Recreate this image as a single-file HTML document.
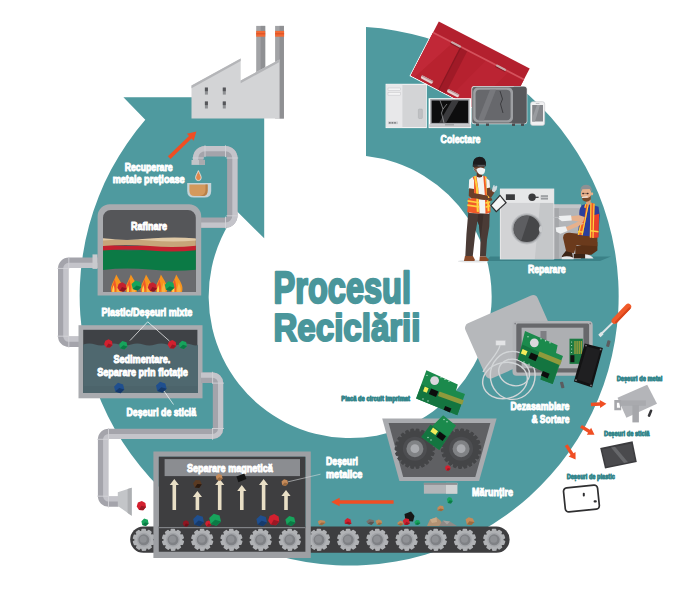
<!DOCTYPE html>
<html><head><meta charset="utf-8">
<style>
html,body{margin:0;padding:0;background:#fff;}
svg{display:block;}
text{font-family:"Liberation Sans",sans-serif;font-weight:bold;}
</style></head>
<body>
<svg width="700" height="603" viewBox="0 0 700 603">
<rect width="700" height="603" fill="#fff"/>
<path fill="#4f9a9f" d="M366,27.1 A269.5,269.5 0 1 1 145.3,119.8 L123.4,97.2 L264.2,97.2 L264.2,238.3 L237.2,211.4 A141.5,141.5 0 1 0 366,156 Z"/>
<text x="273.60" y="303.20" font-size="43.65" textLength="137.40" lengthAdjust="spacingAndGlyphs" fill="#4a969b" stroke="#4a969b" stroke-width="2.40" stroke-linejoin="round" text-anchor="start" >Procesul</text>
<text x="273.50" y="341.10" font-size="38.93" textLength="147.00" lengthAdjust="spacingAndGlyphs" fill="#4a969b" stroke="#4a969b" stroke-width="2.20" stroke-linejoin="round" text-anchor="start" >Reciclării</text>
<g id="factory">
<rect x="256.2" y="25.9" width="9" height="50" fill="#a2a3a6"/><rect x="260.7" y="25.9" width="4.5" height="50" fill="#8f9093"/>
<rect x="275.1" y="25.9" width="8.8" height="92.6" fill="#a2a3a6"/><rect x="279.5" y="25.9" width="4.4" height="92.6" fill="#8f9093"/>
<rect x="256.2" y="30.9" width="9" height="5.8" fill="#f26a35"/><rect x="256.2" y="33.4" width="9" height="0.9" fill="#d94a1e"/>
<rect x="275.1" y="30.9" width="9" height="5.8" fill="#f26a35"/><rect x="275.1" y="33.4" width="9" height="0.9" fill="#d94a1e"/>
<polygon points="191.5,118.5 191.5,85.6 240.7,58.4 240.7,80.6 279.5,59.4 279.5,118.5" fill="#d3d4d6"/>
<polygon points="191.5,85.6 240.7,58.4 240.7,61 191.5,88.2" fill="#b4b5b8"/>
<polygon points="240.7,80.6 279.5,59.4 279.5,62 240.7,83.2" fill="#b4b5b8"/>
<rect x="204.9" y="87.6" width="3" height="7" fill="#8e9093"/><rect x="204.9" y="87.6" width="3" height="3.6" fill="#55565a"/>
<rect x="204.9" y="101.5" width="3" height="7" fill="#8e9093"/><rect x="204.9" y="101.5" width="3" height="3.6" fill="#55565a"/>
<rect x="222.8" y="87.6" width="3" height="7" fill="#8e9093"/><rect x="222.8" y="87.6" width="3" height="3.6" fill="#55565a"/>
<rect x="222.8" y="101.5" width="3" height="7" fill="#8e9093"/><rect x="222.8" y="101.5" width="3" height="3.6" fill="#55565a"/>
</g>
<g id="toppipe">
<path d="M198.20,161.00 L198.20,158.00 A6.80,6.80 0 0 1 205.00,151.20 L225.50,151.20 A6.80,6.80 0 0 1 232.30,158.00 L232.30,215.80 A6.80,6.80 0 0 1 225.50,222.60 L196.00,222.60" fill="none" stroke="#a4a4ab" stroke-width="10.4"/>
<path d="M195.60,161.00 L195.60,158.00 A9.40,9.40 0 0 1 205.00,148.60 L225.50,148.60 A9.40,9.40 0 0 1 234.90,158.00 L234.90,215.80 A9.40,9.40 0 0 1 225.50,225.20 L196.00,225.20" fill="none" stroke="#c4c4ca" stroke-width="5.2"/>
<path d="M204.10,158.00 L192.30,158.00" stroke="#d2d2d7" stroke-width="0.9"/>
<path d="M205.00,157.10 L205.00,145.30" stroke="#d2d2d7" stroke-width="0.9"/>
<path d="M225.50,157.10 L225.50,145.30" stroke="#d2d2d7" stroke-width="0.9"/>
<path d="M226.40,158.00 L238.20,158.00" stroke="#d2d2d7" stroke-width="0.9"/>
<path d="M226.40,215.80 L238.20,215.80" stroke="#d2d2d7" stroke-width="0.9"/>
<path d="M225.50,216.70 L225.50,228.50" stroke="#d2d2d7" stroke-width="0.9"/>
<rect x="191.5" y="159.9" width="13.4" height="5" fill="#c3c4c8"/><rect x="199" y="159.9" width="5.9" height="5" fill="#a9aaae"/>
<path d="M198.4,170.6 C199.6,173.5 201.2,175.6 201.2,177.8 A2.8,2.8 0 0 1 195.6,177.8 C195.6,175.6 197.2,173.5 198.4,170.6Z" fill="#e0894e" stroke="#e8eef0" stroke-width="0.8"/>
<path d="M187.2,183 H211.2 V191 Q211.2,197.6 204.5,197.6 H194 Q187.2,197.6 187.2,191Z" fill="#c4d3d8" />
<path d="M189.4,184.4 H207.6 V190.5 Q207.6,196 202.5,196 H194.5 Q189.4,196 189.4,190.5Z" fill="#d4995c"/>
<path d="M207.6,184.4 V190.5 Q207.6,196 202.5,196 H200 Q205.5,195 205.5,190 V184.4Z" fill="#b77f47"/>
</g>
<polygon points="170.5,158.9 191.6,138.6 193.6,140.8 196.4,131.4 186.9,133.8 189.0,136.0 167.9,156.3" fill="#f04e23"/>
<text x="124.70" y="171.30" font-size="11.20" textLength="48.00" lengthAdjust="spacingAndGlyphs" fill="#fff" stroke="#fff" stroke-width="1.00" stroke-linejoin="round" text-anchor="start" >Recuperare</text>
<text x="112.70" y="183.20" font-size="11.20" textLength="72.00" lengthAdjust="spacingAndGlyphs" fill="#fff" stroke="#fff" stroke-width="1.00" stroke-linejoin="round" text-anchor="start" >metale prețioase</text>
<g id="leftpipe">
<path d="M98.00,262.80 L68.80,262.80 A5.60,5.60 0 0 0 63.20,268.40 L63.20,336.20 A5.60,5.60 0 0 0 68.80,341.80 L80.00,341.80" fill="none" stroke="#a4a4ab" stroke-width="10.4"/>
<path d="M98.00,265.40 L68.80,265.40 A3.00,3.00 0 0 0 65.80,268.40 L65.80,336.20 A3.00,3.00 0 0 0 68.80,339.20 L80.00,339.20" fill="none" stroke="#c4c4ca" stroke-width="5.2"/>
<path d="M68.80,256.90 L68.80,268.70" stroke="#d2d2d7" stroke-width="0.9"/>
<path d="M57.30,268.40 L69.10,268.40" stroke="#d2d2d7" stroke-width="0.9"/>
<path d="M57.30,336.20 L69.10,336.20" stroke="#d2d2d7" stroke-width="0.9"/>
<path d="M68.80,347.70 L68.80,335.90" stroke="#d2d2d7" stroke-width="0.9"/>
<rect x="92.5" y="254.4" width="5" height="14.5" fill="#c9cace"/>
</g>
<g id="furnace">
<path d="M97.6,295.6 V216.5 A12.2,12.2 0 0 1 109.8,204.3 H189 A12.2,12.2 0 0 1 201.2,216.5 V295.6Z" fill="#a9abaf"/>
<path d="M103,292 V217.8 A7.8,7.8 0 0 1 110.8,210 H188 A7.8,7.8 0 0 1 195.8,217.8 V292Z" fill="#555659"/>
<clipPath id="fc"><path d="M103,292 V217.8 A7.8,7.8 0 0 1 110.8,210 H188 A7.8,7.8 0 0 1 195.8,217.8 V292Z"/></clipPath>
<g clip-path="url(#fc)">
<rect x="102" y="268" width="96" height="25" fill="#6a6b6e"/>
<path d="M102,249 Q125,251.5 150,249.5 T198,249.5 V269.6 Q175,272 150,269.6 T102,270Z" fill="#0b7a45"/>
<path d="M102,244.5 Q125,247 150,245 T198,245 V250 Q175,252.5 150,250.5 T102,250.5Z" fill="#c4202f"/>
<path d="M102,238.6 Q125,241 150,239 T198,239 V245.5 Q175,248 150,246 T102,246Z" fill="#c7a57a"/>
<path d="M102,238.2 Q125,240.6 150,238.6 T198,238.6 V240.4 Q175,242.6 150,240.6 T102,240.6Z" fill="#e0c9a6"/>
<path d="M111.2,292 C109.6,286 114.2,281 116.2,274.4 C119.6,281 124.0,285 122.0,292Z" fill="#f7941d"/>
<path d="M111.6,292 C111.0,287 113.6,284 114.6,279 C116.0,284 117.0,287 115.6,292Z" fill="#f15a29"/>
<path d="M117.2,292 C116.6,288 118.2,286 118.8,282.5 C120.0,286 121.2,288 120.6,292Z" fill="#fbb040"/>
<path d="M112.2,292 C111.8,289.5 113.0,287.5 113.4,285 C114.4,287.5 114.8,289.5 114.4,292Z" fill="#ffd24a"/>
<path d="M125.8,292 C124.2,286 128.8,281 130.8,274.4 C134.2,281 138.6,285 136.6,292Z" fill="#f7941d"/>
<path d="M126.2,292 C125.6,287 128.2,284 129.2,279 C130.6,284 131.6,287 130.2,292Z" fill="#f15a29"/>
<path d="M131.8,292 C131.2,288 132.8,286 133.4,282.5 C134.6,286 135.8,288 135.2,292Z" fill="#fbb040"/>
<path d="M126.8,292 C126.4,289.5 127.6,287.5 128.0,285 C129.0,287.5 129.4,289.5 129.0,292Z" fill="#ffd24a"/>
<path d="M141.0,292 C139.4,286 144.0,281 146.0,274.4 C149.4,281 153.8,285 151.8,292Z" fill="#f7941d"/>
<path d="M141.4,292 C140.8,287 143.4,284 144.4,279 C145.8,284 146.8,287 145.4,292Z" fill="#f15a29"/>
<path d="M147.0,292 C146.4,288 148.0,286 148.6,282.5 C149.8,286 151.0,288 150.4,292Z" fill="#fbb040"/>
<path d="M142.0,292 C141.6,289.5 142.8,287.5 143.2,285 C144.2,287.5 144.6,289.5 144.2,292Z" fill="#ffd24a"/>
<path d="M155.9,292 C154.3,286 158.9,281 160.9,274.4 C164.3,281 168.7,285 166.7,292Z" fill="#f7941d"/>
<path d="M156.3,292 C155.7,287 158.3,284 159.3,279 C160.7,284 161.7,287 160.3,292Z" fill="#f15a29"/>
<path d="M161.9,292 C161.3,288 162.9,286 163.5,282.5 C164.7,286 165.9,288 165.3,292Z" fill="#fbb040"/>
<path d="M156.9,292 C156.5,289.5 157.7,287.5 158.1,285 C159.1,287.5 159.5,289.5 159.1,292Z" fill="#ffd24a"/>
<path d="M171.2,292 C169.6,286 174.2,281 176.2,274.4 C179.6,281 184.0,285 182.0,292Z" fill="#f7941d"/>
<path d="M171.6,292 C171.0,287 173.6,284 174.6,279 C176.0,284 177.0,287 175.6,292Z" fill="#f15a29"/>
<path d="M177.2,292 C176.6,288 178.2,286 178.8,282.5 C180.0,286 181.2,288 180.6,292Z" fill="#fbb040"/>
<path d="M172.2,292 C171.8,289.5 173.0,287.5 173.4,285 C174.4,287.5 174.8,289.5 174.4,292Z" fill="#ffd24a"/>
<polygon points="126.5,288.4 123.7,291.4 119.6,291.1 117.4,287.7 118.6,283.8 122.4,282.3 125.9,284.4" fill="#c4202f"/>
<polygon points="122.0,287.0 126.5,288.4 123.7,291.4 119.6,291.1" fill="#8f1622"/>
<polygon points="141.4,287.1 137.6,290.6 132.8,289.1 131.6,284.1 135.4,280.6 140.2,282.1" fill="#17a45c"/>
<polygon points="136.5,285.6 141.4,287.1 137.6,290.6 132.8,289.1" fill="#0b7a45"/>
<polygon points="156.9,288.4 154.1,291.4 150.0,291.1 147.8,287.7 149.0,283.8 152.8,282.3 156.3,284.4" fill="#c4202f"/>
<polygon points="152.4,287.0 156.9,288.4 154.1,291.4 150.0,291.1" fill="#8f1622"/>
<polygon points="174.4,287.7 170.7,291.1 165.9,289.6 164.8,284.7 168.5,281.3 173.3,282.8" fill="#17a45c"/>
<polygon points="169.6,286.2 174.4,287.7 170.7,291.1 165.9,289.6" fill="#0b7a45"/>
</g>
<text x="130.90" y="230.10" font-size="11.20" textLength="36.00" lengthAdjust="spacingAndGlyphs" fill="#fff" stroke="#fff" stroke-width="1.00" stroke-linejoin="round" text-anchor="start" >Rafinare</text>
</g>
<text x="101.50" y="316.10" font-size="11.20" textLength="90.80" lengthAdjust="spacingAndGlyphs" fill="#fff" stroke="#fff" stroke-width="1.00" stroke-linejoin="round" text-anchor="start" >Plastic/Deșeuri mixte</text>
<g id="tank">
<rect x="78.5" y="325.2" width="124" height="73.1" fill="#a9abaf"/>
<rect x="83.2" y="329.8" width="114.2" height="63.2" fill="#3f4246"/>
<path d="M83.2,344.5 q6,-2.2 12,0 t12,0 t12,0 t12,0 t12,0 t12,0 t12,0 t12,0 t12,0 t6.8,0 V393 H83.2Z" fill="#4f686f"/>
<path d="M83.2,386 H197.4 V393 H83.2Z" fill="#4c646b"/>
<polygon points="112.5,344.9 110.0,347.6 106.2,347.3 104.1,344.2 105.3,340.7 108.7,339.3 112.0,341.2" fill="#d3202f"/>
<polygon points="108.4,343.6 112.5,344.9 110.0,347.6 106.2,347.3" fill="#9b1824"/>
<polygon points="127.5,346.5 124.3,349.5 120.1,348.2 119.1,343.9 122.3,340.9 126.5,342.2" fill="#17a45c"/>
<polygon points="123.3,345.2 127.5,346.5 124.3,349.5 120.1,348.2" fill="#0b7a45"/>
<polygon points="176.3,345.7 173.7,348.5 169.9,348.2 167.7,345.1 168.9,341.4 172.4,340.0 175.7,341.9" fill="#d3202f"/>
<polygon points="172.1,344.4 176.3,345.7 173.7,348.5 169.9,348.2" fill="#9b1824"/>
<polygon points="187.0,346.0 183.9,348.9 179.9,347.7 179.0,343.6 182.1,340.7 186.1,341.9" fill="#17a45c"/>
<polygon points="183.0,344.8 187.0,346.0 183.9,348.9 179.9,347.7" fill="#0b7a45"/>
<polygon points="124.3,389.6 120.4,393.2 115.3,391.6 114.1,386.4 118.0,382.8 123.1,384.4" fill="#1f4f8f"/>
<polygon points="119.2,388.0 124.3,389.6 120.4,393.2 115.3,391.6" fill="#163a6b"/>
<polygon points="166.6,388.8 162.5,392.6 157.3,390.9 156.0,385.6 160.1,381.8 165.3,383.5" fill="#1f4f8f"/>
<polygon points="161.3,387.2 166.6,388.8 162.5,392.6 157.3,390.9" fill="#163a6b"/>
<path d="M147.7,321.8 L130,340.5 M147.7,321.8 L169.4,341" stroke="#fff" stroke-width="0.7" fill="none"/>
<path d="M164,391 L173.5,404.5" stroke="#fff" stroke-width="0.7" fill="none"/>
<text x="113.50" y="363.30" font-size="11.20" textLength="56.80" lengthAdjust="spacingAndGlyphs" fill="#fff" stroke="#fff" stroke-width="1.00" stroke-linejoin="round" text-anchor="start" >Sedimentare.</text>
<text x="97.20" y="375.80" font-size="11.20" textLength="90.70" lengthAdjust="spacingAndGlyphs" fill="#fff" stroke="#fff" stroke-width="1.00" stroke-linejoin="round" text-anchor="start" >Separare prin flotație</text>
</g>
<text x="126.50" y="415.70" font-size="11.20" textLength="69.60" lengthAdjust="spacingAndGlyphs" fill="#fff" stroke="#fff" stroke-width="1.00" stroke-linejoin="round" text-anchor="start" >Deșeuri de sticlă</text>
<g id="rpipe">
<path d="M201.00,377.70 L212.60,377.70 A5.40,5.40 0 0 1 218.00,383.10 L218.00,428.50 A5.40,5.40 0 0 1 212.60,433.90 L108.50,433.90 A5.40,5.40 0 0 0 103.10,439.30 L103.10,496.20 A5.40,5.40 0 0 0 108.50,501.60 L118.50,501.60" fill="none" stroke="#a4a4ab" stroke-width="10.4"/>
<path d="M201.00,375.10 L212.60,375.10 A8.00,8.00 0 0 1 220.60,383.10 L220.60,428.50 A8.00,8.00 0 0 1 212.60,436.50 L108.50,436.50 A2.80,2.80 0 0 0 105.70,439.30 L105.70,496.20 A2.80,2.80 0 0 0 108.50,499.00 L118.50,499.00" fill="none" stroke="#c4c4ca" stroke-width="5.2"/>
<path d="M212.60,383.60 L212.60,371.80" stroke="#d2d2d7" stroke-width="0.9"/>
<path d="M212.10,383.10 L223.90,383.10" stroke="#d2d2d7" stroke-width="0.9"/>
<path d="M212.10,428.50 L223.90,428.50" stroke="#d2d2d7" stroke-width="0.9"/>
<path d="M212.60,428.00 L212.60,439.80" stroke="#d2d2d7" stroke-width="0.9"/>
<path d="M108.50,428.00 L108.50,439.80" stroke="#d2d2d7" stroke-width="0.9"/>
<path d="M97.20,439.30 L109.00,439.30" stroke="#d2d2d7" stroke-width="0.9"/>
<path d="M97.20,496.20 L109.00,496.20" stroke="#d2d2d7" stroke-width="0.9"/>
<path d="M108.50,507.50 L108.50,495.70" stroke="#d2d2d7" stroke-width="0.9"/>
<polygon points="117.8,492.2 131.7,487.7 131.7,515.8 117.8,505.9" fill="#c3c5c8"/>
<polygon points="127.6,489 131.7,487.7 131.7,515.8 127.6,512.9" fill="#adafb2"/>
</g>
<polygon points="146.0,507.1 143.2,510.2 139.0,509.9 136.7,506.4 137.9,502.4 141.8,500.9 145.4,503.0" fill="#d3202f"/>
<polygon points="141.4,505.7 146.0,507.1 143.2,510.2 139.0,509.9" fill="#9b1824"/>
<polygon points="148.6,523.4 145.8,526.0 142.2,524.9 141.4,521.2 144.2,518.6 147.8,519.7" fill="#17a45c"/>
<polygon points="145.0,522.3 148.6,523.4 145.8,526.0 142.2,524.9" fill="#0b7a45"/>
<g id="conveyor">
<rect x="130.2" y="526.4" width="379.4" height="26.4" rx="13.2" fill="#3e3e40"/>
<path d="M152.47,540.55 L154.17,541.42 L153.28,544.32 L151.37,544.08 L150.37,545.50 L151.24,547.21 L148.81,549.03 L147.41,547.71 L145.77,548.27 L145.47,550.17 L142.43,550.21 L142.07,548.33 L140.41,547.81 L139.05,549.17 L136.57,547.42 L137.39,545.68 L136.35,544.29 L134.46,544.59 L133.48,541.71 L135.16,540.79 L135.13,539.05 L133.43,538.18 L134.32,535.28 L136.23,535.52 L137.23,534.10 L136.36,532.39 L138.79,530.57 L140.19,531.89 L141.83,531.33 L142.13,529.43 L145.17,529.39 L145.53,531.27 L147.19,531.79 L148.55,530.43 L151.03,532.18 L150.21,533.92 L151.25,535.31 L153.14,535.01 L154.12,537.89 L152.44,538.81Z" fill="#b0b2b5" stroke="#b0b2b5" stroke-width="1.4" stroke-linejoin="round"/>
<circle cx="143.8" cy="539.8" r="7" fill="#a3a5a9"/>
<circle cx="143.8" cy="539.8" r="5.5" fill="#7f8185"/>
<circle cx="143.3" cy="539.3" r="3.5" fill="#8f9195"/>
<path d="M181.67,540.55 L183.37,541.42 L182.48,544.32 L180.57,544.08 L179.57,545.50 L180.44,547.21 L178.01,549.03 L176.61,547.71 L174.97,548.27 L174.67,550.17 L171.63,550.21 L171.27,548.33 L169.61,547.81 L168.25,549.17 L165.77,547.42 L166.59,545.68 L165.55,544.29 L163.66,544.59 L162.68,541.71 L164.36,540.79 L164.33,539.05 L162.63,538.18 L163.52,535.28 L165.43,535.52 L166.43,534.10 L165.56,532.39 L167.99,530.57 L169.39,531.89 L171.03,531.33 L171.33,529.43 L174.37,529.39 L174.73,531.27 L176.39,531.79 L177.75,530.43 L180.23,532.18 L179.41,533.92 L180.45,535.31 L182.34,535.01 L183.32,537.89 L181.64,538.81Z" fill="#b0b2b5" stroke="#b0b2b5" stroke-width="1.4" stroke-linejoin="round"/>
<circle cx="173.0" cy="539.8" r="7" fill="#a3a5a9"/>
<circle cx="173.0" cy="539.8" r="5.5" fill="#7f8185"/>
<circle cx="172.5" cy="539.3" r="3.5" fill="#8f9195"/>
<path d="M210.87,540.55 L212.57,541.42 L211.68,544.32 L209.77,544.08 L208.77,545.50 L209.64,547.21 L207.21,549.03 L205.81,547.71 L204.17,548.27 L203.87,550.17 L200.83,550.21 L200.47,548.33 L198.81,547.81 L197.45,549.17 L194.97,547.42 L195.79,545.68 L194.75,544.29 L192.86,544.59 L191.88,541.71 L193.56,540.79 L193.53,539.05 L191.83,538.18 L192.72,535.28 L194.63,535.52 L195.63,534.10 L194.76,532.39 L197.19,530.57 L198.59,531.89 L200.23,531.33 L200.53,529.43 L203.57,529.39 L203.93,531.27 L205.59,531.79 L206.95,530.43 L209.43,532.18 L208.61,533.92 L209.65,535.31 L211.54,535.01 L212.52,537.89 L210.84,538.81Z" fill="#b0b2b5" stroke="#b0b2b5" stroke-width="1.4" stroke-linejoin="round"/>
<circle cx="202.2" cy="539.8" r="7" fill="#a3a5a9"/>
<circle cx="202.2" cy="539.8" r="5.5" fill="#7f8185"/>
<circle cx="201.7" cy="539.3" r="3.5" fill="#8f9195"/>
<path d="M240.07,540.55 L241.77,541.42 L240.88,544.32 L238.97,544.08 L237.97,545.50 L238.84,547.21 L236.41,549.03 L235.01,547.71 L233.37,548.27 L233.07,550.17 L230.03,550.21 L229.67,548.33 L228.01,547.81 L226.65,549.17 L224.17,547.42 L224.99,545.68 L223.95,544.29 L222.06,544.59 L221.08,541.71 L222.76,540.79 L222.73,539.05 L221.03,538.18 L221.92,535.28 L223.83,535.52 L224.83,534.10 L223.96,532.39 L226.39,530.57 L227.79,531.89 L229.43,531.33 L229.73,529.43 L232.77,529.39 L233.13,531.27 L234.79,531.79 L236.15,530.43 L238.63,532.18 L237.81,533.92 L238.85,535.31 L240.74,535.01 L241.72,537.89 L240.04,538.81Z" fill="#b0b2b5" stroke="#b0b2b5" stroke-width="1.4" stroke-linejoin="round"/>
<circle cx="231.4" cy="539.8" r="7" fill="#a3a5a9"/>
<circle cx="231.4" cy="539.8" r="5.5" fill="#7f8185"/>
<circle cx="230.9" cy="539.3" r="3.5" fill="#8f9195"/>
<path d="M269.27,540.55 L270.97,541.42 L270.08,544.32 L268.17,544.08 L267.17,545.50 L268.04,547.21 L265.61,549.03 L264.21,547.71 L262.57,548.27 L262.27,550.17 L259.23,550.21 L258.87,548.33 L257.21,547.81 L255.85,549.17 L253.37,547.42 L254.19,545.68 L253.15,544.29 L251.26,544.59 L250.28,541.71 L251.96,540.79 L251.93,539.05 L250.23,538.18 L251.12,535.28 L253.03,535.52 L254.03,534.10 L253.16,532.39 L255.59,530.57 L256.99,531.89 L258.63,531.33 L258.93,529.43 L261.97,529.39 L262.33,531.27 L263.99,531.79 L265.35,530.43 L267.83,532.18 L267.01,533.92 L268.05,535.31 L269.94,535.01 L270.92,537.89 L269.24,538.81Z" fill="#b0b2b5" stroke="#b0b2b5" stroke-width="1.4" stroke-linejoin="round"/>
<circle cx="260.6" cy="539.8" r="7" fill="#a3a5a9"/>
<circle cx="260.6" cy="539.8" r="5.5" fill="#7f8185"/>
<circle cx="260.1" cy="539.3" r="3.5" fill="#8f9195"/>
<path d="M298.47,540.55 L300.17,541.42 L299.28,544.32 L297.37,544.08 L296.37,545.50 L297.24,547.21 L294.81,549.03 L293.41,547.71 L291.77,548.27 L291.47,550.17 L288.43,550.21 L288.07,548.33 L286.41,547.81 L285.05,549.17 L282.57,547.42 L283.39,545.68 L282.35,544.29 L280.46,544.59 L279.48,541.71 L281.16,540.79 L281.13,539.05 L279.43,538.18 L280.32,535.28 L282.23,535.52 L283.23,534.10 L282.36,532.39 L284.79,530.57 L286.19,531.89 L287.83,531.33 L288.13,529.43 L291.17,529.39 L291.53,531.27 L293.19,531.79 L294.55,530.43 L297.03,532.18 L296.21,533.92 L297.25,535.31 L299.14,535.01 L300.12,537.89 L298.44,538.81Z" fill="#b0b2b5" stroke="#b0b2b5" stroke-width="1.4" stroke-linejoin="round"/>
<circle cx="289.8" cy="539.8" r="7" fill="#a3a5a9"/>
<circle cx="289.8" cy="539.8" r="5.5" fill="#7f8185"/>
<circle cx="289.3" cy="539.3" r="3.5" fill="#8f9195"/>
<path d="M327.67,540.55 L329.37,541.42 L328.48,544.32 L326.57,544.08 L325.57,545.50 L326.44,547.21 L324.01,549.03 L322.61,547.71 L320.97,548.27 L320.67,550.17 L317.63,550.21 L317.27,548.33 L315.61,547.81 L314.25,549.17 L311.77,547.42 L312.59,545.68 L311.55,544.29 L309.66,544.59 L308.68,541.71 L310.36,540.79 L310.33,539.05 L308.63,538.18 L309.52,535.28 L311.43,535.52 L312.43,534.10 L311.56,532.39 L313.99,530.57 L315.39,531.89 L317.03,531.33 L317.33,529.43 L320.37,529.39 L320.73,531.27 L322.39,531.79 L323.75,530.43 L326.23,532.18 L325.41,533.92 L326.45,535.31 L328.34,535.01 L329.32,537.89 L327.64,538.81Z" fill="#b0b2b5" stroke="#b0b2b5" stroke-width="1.4" stroke-linejoin="round"/>
<circle cx="319.0" cy="539.8" r="7" fill="#a3a5a9"/>
<circle cx="319.0" cy="539.8" r="5.5" fill="#7f8185"/>
<circle cx="318.5" cy="539.3" r="3.5" fill="#8f9195"/>
<path d="M356.87,540.55 L358.57,541.42 L357.68,544.32 L355.77,544.08 L354.77,545.50 L355.64,547.21 L353.21,549.03 L351.81,547.71 L350.17,548.27 L349.87,550.17 L346.83,550.21 L346.47,548.33 L344.81,547.81 L343.45,549.17 L340.97,547.42 L341.79,545.68 L340.75,544.29 L338.86,544.59 L337.88,541.71 L339.56,540.79 L339.53,539.05 L337.83,538.18 L338.72,535.28 L340.63,535.52 L341.63,534.10 L340.76,532.39 L343.19,530.57 L344.59,531.89 L346.23,531.33 L346.53,529.43 L349.57,529.39 L349.93,531.27 L351.59,531.79 L352.95,530.43 L355.43,532.18 L354.61,533.92 L355.65,535.31 L357.54,535.01 L358.52,537.89 L356.84,538.81Z" fill="#b0b2b5" stroke="#b0b2b5" stroke-width="1.4" stroke-linejoin="round"/>
<circle cx="348.2" cy="539.8" r="7" fill="#a3a5a9"/>
<circle cx="348.2" cy="539.8" r="5.5" fill="#7f8185"/>
<circle cx="347.7" cy="539.3" r="3.5" fill="#8f9195"/>
<path d="M386.07,540.55 L387.77,541.42 L386.88,544.32 L384.97,544.08 L383.97,545.50 L384.84,547.21 L382.41,549.03 L381.01,547.71 L379.37,548.27 L379.07,550.17 L376.03,550.21 L375.67,548.33 L374.01,547.81 L372.65,549.17 L370.17,547.42 L370.99,545.68 L369.95,544.29 L368.06,544.59 L367.08,541.71 L368.76,540.79 L368.73,539.05 L367.03,538.18 L367.92,535.28 L369.83,535.52 L370.83,534.10 L369.96,532.39 L372.39,530.57 L373.79,531.89 L375.43,531.33 L375.73,529.43 L378.77,529.39 L379.13,531.27 L380.79,531.79 L382.15,530.43 L384.63,532.18 L383.81,533.92 L384.85,535.31 L386.74,535.01 L387.72,537.89 L386.04,538.81Z" fill="#b0b2b5" stroke="#b0b2b5" stroke-width="1.4" stroke-linejoin="round"/>
<circle cx="377.4" cy="539.8" r="7" fill="#a3a5a9"/>
<circle cx="377.4" cy="539.8" r="5.5" fill="#7f8185"/>
<circle cx="376.9" cy="539.3" r="3.5" fill="#8f9195"/>
<path d="M415.27,540.55 L416.97,541.42 L416.08,544.32 L414.17,544.08 L413.17,545.50 L414.04,547.21 L411.61,549.03 L410.21,547.71 L408.57,548.27 L408.27,550.17 L405.23,550.21 L404.87,548.33 L403.21,547.81 L401.85,549.17 L399.37,547.42 L400.19,545.68 L399.15,544.29 L397.26,544.59 L396.28,541.71 L397.96,540.79 L397.93,539.05 L396.23,538.18 L397.12,535.28 L399.03,535.52 L400.03,534.10 L399.16,532.39 L401.59,530.57 L402.99,531.89 L404.63,531.33 L404.93,529.43 L407.97,529.39 L408.33,531.27 L409.99,531.79 L411.35,530.43 L413.83,532.18 L413.01,533.92 L414.05,535.31 L415.94,535.01 L416.92,537.89 L415.24,538.81Z" fill="#b0b2b5" stroke="#b0b2b5" stroke-width="1.4" stroke-linejoin="round"/>
<circle cx="406.6" cy="539.8" r="7" fill="#a3a5a9"/>
<circle cx="406.6" cy="539.8" r="5.5" fill="#7f8185"/>
<circle cx="406.1" cy="539.3" r="3.5" fill="#8f9195"/>
<path d="M444.47,540.55 L446.17,541.42 L445.28,544.32 L443.37,544.08 L442.37,545.50 L443.24,547.21 L440.81,549.03 L439.41,547.71 L437.77,548.27 L437.47,550.17 L434.43,550.21 L434.07,548.33 L432.41,547.81 L431.05,549.17 L428.57,547.42 L429.39,545.68 L428.35,544.29 L426.46,544.59 L425.48,541.71 L427.16,540.79 L427.13,539.05 L425.43,538.18 L426.32,535.28 L428.23,535.52 L429.23,534.10 L428.36,532.39 L430.79,530.57 L432.19,531.89 L433.83,531.33 L434.13,529.43 L437.17,529.39 L437.53,531.27 L439.19,531.79 L440.55,530.43 L443.03,532.18 L442.21,533.92 L443.25,535.31 L445.14,535.01 L446.12,537.89 L444.44,538.81Z" fill="#b0b2b5" stroke="#b0b2b5" stroke-width="1.4" stroke-linejoin="round"/>
<circle cx="435.8" cy="539.8" r="7" fill="#a3a5a9"/>
<circle cx="435.8" cy="539.8" r="5.5" fill="#7f8185"/>
<circle cx="435.3" cy="539.3" r="3.5" fill="#8f9195"/>
<path d="M473.67,540.55 L475.37,541.42 L474.48,544.32 L472.57,544.08 L471.57,545.50 L472.44,547.21 L470.01,549.03 L468.61,547.71 L466.97,548.27 L466.67,550.17 L463.63,550.21 L463.27,548.33 L461.61,547.81 L460.25,549.17 L457.77,547.42 L458.59,545.68 L457.55,544.29 L455.66,544.59 L454.68,541.71 L456.36,540.79 L456.33,539.05 L454.63,538.18 L455.52,535.28 L457.43,535.52 L458.43,534.10 L457.56,532.39 L459.99,530.57 L461.39,531.89 L463.03,531.33 L463.33,529.43 L466.37,529.39 L466.73,531.27 L468.39,531.79 L469.75,530.43 L472.23,532.18 L471.41,533.92 L472.45,535.31 L474.34,535.01 L475.32,537.89 L473.64,538.81Z" fill="#b0b2b5" stroke="#b0b2b5" stroke-width="1.4" stroke-linejoin="round"/>
<circle cx="465.0" cy="539.8" r="7" fill="#a3a5a9"/>
<circle cx="465.0" cy="539.8" r="5.5" fill="#7f8185"/>
<circle cx="464.5" cy="539.3" r="3.5" fill="#8f9195"/>
<path d="M502.87,540.55 L504.57,541.42 L503.68,544.32 L501.77,544.08 L500.77,545.50 L501.64,547.21 L499.21,549.03 L497.81,547.71 L496.17,548.27 L495.87,550.17 L492.83,550.21 L492.47,548.33 L490.81,547.81 L489.45,549.17 L486.97,547.42 L487.79,545.68 L486.75,544.29 L484.86,544.59 L483.88,541.71 L485.56,540.79 L485.53,539.05 L483.83,538.18 L484.72,535.28 L486.63,535.52 L487.63,534.10 L486.76,532.39 L489.19,530.57 L490.59,531.89 L492.23,531.33 L492.53,529.43 L495.57,529.39 L495.93,531.27 L497.59,531.79 L498.95,530.43 L501.43,532.18 L500.61,533.92 L501.65,535.31 L503.54,535.01 L504.52,537.89 L502.84,538.81Z" fill="#b0b2b5" stroke="#b0b2b5" stroke-width="1.4" stroke-linejoin="round"/>
<circle cx="494.2" cy="539.8" r="7" fill="#a3a5a9"/>
<circle cx="494.2" cy="539.8" r="5.5" fill="#7f8185"/>
<circle cx="493.7" cy="539.3" r="3.5" fill="#8f9195"/>
</g>
<g id="magsep">
<path fill-rule="evenodd" fill="#9d9fa3" d="M153.4,451.6 H310.8 V558 H153.4Z M158.8,456.7 V551.8 H305.4 V456.7Z"/>
<rect x="158.8" y="456.7" width="146.6" height="70.6" fill="#3e3e40"/>
<rect x="158.8" y="527" width="146.6" height="1.2" fill="#808286"/>
<rect x="164.6" y="459.1" width="135.4" height="17" fill="#8b8d91"/>
<text x="186.90" y="471.50" font-size="11.20" textLength="86.00" lengthAdjust="spacingAndGlyphs" fill="#fff" stroke="#fff" stroke-width="1.00" stroke-linejoin="round" text-anchor="start" >Separare magnetică</text>
<polygon points="172.5,510 172.5,485.0 169.7,485.0 174.3,479.0 178.9,485.0 176.1,485.0 176.1,510" fill="#e9dfc6"/>
<polygon points="195.6,510 195.6,497.1 192.8,497.1 197.4,491.1 202.0,497.1 199.2,497.1 199.2,510" fill="#e9dfc6"/>
<polygon points="217.9,510 217.9,485.0 215.1,485.0 219.7,479.0 224.3,485.0 221.5,485.0 221.5,510" fill="#e9dfc6"/>
<polygon points="240.0,510 240.0,491.0 237.2,491.0 241.8,485.0 246.4,491.0 243.6,491.0 243.6,510" fill="#e9dfc6"/>
<polygon points="261.8,510 261.8,485.0 259.0,485.0 263.6,479.0 268.2,485.0 265.4,485.0 265.4,510" fill="#e9dfc6"/>
<polygon points="284.2,510 284.2,496.0 281.4,496.0 286.0,490.0 290.6,496.0 287.8,496.0 287.8,510" fill="#e9dfc6"/>
<polygon points="201.8,484.3 199.2,487.9 194.8,487.5 193.0,483.5 195.6,479.9 200.0,480.3" fill="#5a3a22"/>
<polygon points="197.4,483.9 201.8,484.3 199.2,487.9 194.8,487.5" fill="#2a1a10"/>
<polygon points="222.6,478.4 220.0,480.8 216.6,479.7 215.8,476.2 218.4,473.8 221.8,474.9" fill="#c58b5a"/>
<polygon points="219.2,477.3 222.6,478.4 220.0,480.8 216.6,479.7" fill="#9a6a40"/>
<polygon points="236.4,476.6 244.4,473.4 246.4,479 238.4,482.2" fill="#151515"/>
<polygon points="288.1,483.6 285.6,486.0 282.2,485.0 281.5,481.6 284.0,479.2 287.4,480.2" fill="#c58b5a"/>
<polygon points="284.8,482.6 288.1,483.6 285.6,486.0 282.2,485.0" fill="#9a6a40"/>
<path d="M288,481.8 L320.5,474.2" stroke="#d7dadc" stroke-width="0.6"/>
<polygon points="189.0,524.3 187.1,526.4 184.3,526.2 182.7,523.9 183.6,521.2 186.1,520.2 188.5,521.6" fill="#8f1622"/>
<polygon points="185.9,523.4 189.0,524.3 187.1,526.4 184.3,526.2" fill="#6d1018"/>
<polygon points="204.0,522.3 199.9,526.2 194.4,524.5 193.2,518.9 197.3,515.0 202.8,516.7" fill="#1f4f8f"/>
<polygon points="198.6,520.6 204.0,522.3 199.9,526.2 194.4,524.5" fill="#163a6b"/>
<polygon points="211.4,524.5 209.5,526.6 206.7,526.4 205.1,524.1 206.0,521.4 208.5,520.4 210.9,521.8" fill="#d3202f"/>
<polygon points="208.3,523.6 211.4,524.5 209.5,526.6 206.7,526.4" fill="#9b1824"/>
<polygon points="221.0,521.6 216.5,525.8 210.6,524.0 209.2,518.0 213.7,513.8 219.6,515.6" fill="#17a45c"/>
<polygon points="215.1,519.8 221.0,521.6 216.5,525.8 210.6,524.0" fill="#0b7a45"/>
<polygon points="267.0,522.5 262.9,526.3 257.6,524.6 256.4,519.1 260.5,515.3 265.8,517.0" fill="#1f4f8f"/>
<polygon points="261.7,520.8 267.0,522.5 262.9,526.3 257.6,524.6" fill="#163a6b"/>
<polygon points="279.3,521.5 275.9,525.2 270.9,524.8 268.1,520.7 269.6,515.9 274.2,514.0 278.6,516.5" fill="#d3202f"/>
<polygon points="273.8,519.8 279.3,521.5 275.9,525.2 270.9,524.8" fill="#9b1824"/>
<polygon points="295.4,522.5 291.6,526.1 286.6,524.5 285.4,519.5 289.2,515.9 294.2,517.5" fill="#17a45c"/>
<polygon points="290.4,521.0 295.4,522.5 291.6,526.1 286.6,524.5" fill="#0b7a45"/>
</g>
<text x="326.00" y="465.10" font-size="11.20" textLength="32.00" lengthAdjust="spacingAndGlyphs" fill="#fff" stroke="#fff" stroke-width="1.00" stroke-linejoin="round" text-anchor="start" >Deșeuri</text>
<text x="326.00" y="477.50" font-size="11.20" textLength="36.40" lengthAdjust="spacingAndGlyphs" fill="#fff" stroke="#fff" stroke-width="1.00" stroke-linejoin="round" text-anchor="start" >metalice</text>
<polygon points="393.6,500.3 339.6,500.3 339.6,497.7 331.1,502.0 339.6,506.3 339.6,503.7 393.6,503.7" fill="#f04e23"/>
<polygon points="325.5,522.8 321.9,525.2 318.9,524.4 317.9,521.3 320.2,520.0 324.7,520.8" fill="#c58b5a"/>
<polygon points="321.6,522.4 325.5,522.8 321.9,525.2 318.9,524.4" fill="#9a6a40"/>
<polygon points="351.5,523.5 349.5,524.5 344.7,523.6 344.7,520.3 347.4,518.1 350.6,519.5" fill="#d3202f"/>
<polygon points="348.0,521.6 351.5,523.5 349.5,524.5 344.7,523.6" fill="#9b1824"/>
<polygon points="374.2,522.3 371.5,524.9 367.7,523.6 366.3,521.6 369.2,519.0 373.7,520.3" fill="#77706c"/>
<polygon points="370.4,521.8 374.2,522.3 371.5,524.9 367.7,523.6" fill="#5a5450"/>
<polygon points="382.2,522.9 379.8,525.1 376.9,524.8 375.5,520.8 378.6,519.5 381.5,520.5" fill="#c58b5a"/>
<polygon points="378.9,522.4 382.2,522.9 379.8,525.1 376.9,524.8" fill="#9a6a40"/>
<polygon points="403.6,524.0 400.8,525.8 397.7,524.6 397.4,522.8 400.5,520.4 403.0,521.8" fill="#c58b5a"/>
<polygon points="400.5,523.0 403.6,524.0 400.8,525.8 397.7,524.6" fill="#9a6a40"/>
<polygon points="404.5,514 411,511.6 414.5,516 413,521.5 405.5,521" fill="#171717"/>
<polygon points="409.9,523.4 407.2,525.0 404.4,524.8 402.7,520.8 405.3,518.3 408.9,519.0" fill="#d3202f"/>
<polygon points="406.4,521.8 409.9,523.4 407.2,525.0 404.4,524.8" fill="#9b1824"/>
<polygon points="420.3,522.9 417.9,524.9 415.2,524.2 414.4,522.2 416.1,520.0 419.1,520.3" fill="#17a45c"/>
<polygon points="417.5,522.4 420.3,522.9 417.9,524.9 415.2,524.2" fill="#0b7a45"/>
<polygon points="427,526 430,519.5 436.5,517.2 441,521 443,526" fill="#b39273"/><polygon points="430,519.5 436.5,517.2 437,522 432,523" fill="#c9a987"/>
<polygon points="439,526 443,520.6 450,521.6 457,526" fill="#8e8a87"/><polygon points="443,520.6 450,521.6 447,524.4" fill="#a8a4a1"/>
<polygon points="474.5,521.9 471.4,525.1 466.8,524.4 465.6,519.2 468.7,517.2 472.8,518.4" fill="#c58b5a"/>
<polygon points="469.4,521.2 474.5,521.9 471.4,525.1 466.8,524.4" fill="#9a6a40"/>
<polygon points="452.7,501.1 451.0,503.4 447.8,502.9 446.9,498.9 448.9,497.1 451.4,497.8" fill="#17a45c"/>
<polygon points="449.6,500.3 452.7,501.1 451.0,503.4 447.8,502.9" fill="#0b7a45"/>
<polygon points="444.0,509.5 441.2,511.3 437.4,510.3 437.5,507.5 439.9,505.6 443.1,506.0" fill="#c58b5a"/>
<polygon points="440.6,508.5 444.0,509.5 441.2,511.3 437.4,510.3" fill="#9a6a40"/>
<g id="shredder">
<polygon points="382.2,418.6 496.6,418.6 479.1,480.9 399.4,480.9" fill="#a9abaf"/>
<polygon points="388.6,423 490.4,423 475.3,476.9 403.2,476.9" fill="#5f6063"/>
<path d="M432.22,447.01 L434.66,447.39 L434.66,450.01 L432.22,450.39 L431.99,451.96 L434.22,453.01 L433.49,455.52 L431.04,455.20 L430.38,456.64 L432.23,458.28 L430.81,460.48 L428.55,459.49 L427.52,460.68 L428.82,462.78 L426.85,464.49 L424.96,462.90 L423.63,463.75 L424.29,466.13 L421.92,467.21 L420.55,465.16 L419.04,465.60 L419.00,468.07 L416.42,468.44 L415.69,466.08 L414.11,466.08 L413.38,468.44 L410.80,468.07 L410.76,465.60 L409.25,465.16 L407.88,467.21 L405.51,466.13 L406.17,463.75 L404.84,462.90 L402.95,464.49 L400.98,462.78 L402.28,460.68 L401.25,459.49 L398.99,460.48 L397.57,458.28 L399.42,456.64 L398.76,455.20 L396.31,455.52 L395.58,453.01 L397.81,451.96 L397.58,450.39 L395.14,450.01 L395.14,447.39 L397.58,447.01 L397.81,445.44 L395.58,444.39 L396.31,441.88 L398.76,442.20 L399.42,440.76 L397.57,439.12 L398.99,436.92 L401.25,437.91 L402.28,436.72 L400.98,434.62 L402.95,432.91 L404.84,434.50 L406.17,433.65 L405.51,431.27 L407.88,430.19 L409.25,432.24 L410.76,431.80 L410.80,429.33 L413.38,428.96 L414.11,431.32 L415.69,431.32 L416.42,428.96 L419.00,429.33 L419.04,431.80 L420.55,432.24 L421.92,430.19 L424.29,431.27 L423.63,433.65 L424.96,434.50 L426.85,432.91 L428.82,434.62 L427.52,436.72 L428.55,437.91 L430.81,436.92 L432.23,439.12 L430.38,440.76 L431.04,442.20 L433.49,441.88 L434.22,444.39 L431.99,445.44Z" fill="#444547" stroke="#444547" stroke-width="1" stroke-linejoin="round"/>
<circle cx="414.9" cy="448.7" r="12" fill="#4d4e51"/>
<circle cx="414.9" cy="448.7" r="8.5" fill="#808285"/>
<circle cx="414.9" cy="448.7" r="4.4" fill="#a9abaf"/>
<path d="M478.41,450.48 L480.72,451.35 L480.20,453.90 L477.74,453.80 L477.21,455.29 L479.18,456.77 L477.96,459.08 L475.63,458.28 L474.70,459.56 L476.18,461.53 L474.36,463.41 L472.34,461.98 L471.09,462.95 L471.95,465.26 L469.68,466.55 L468.14,464.61 L466.67,465.18 L466.84,467.65 L464.30,468.24 L463.37,465.95 L461.80,466.09 L461.27,468.50 L458.67,468.35 L458.42,465.89 L456.87,465.58 L455.69,467.75 L453.23,466.87 L453.69,464.44 L452.29,463.70 L450.54,465.45 L448.43,463.92 L449.55,461.71 L448.42,460.61 L446.25,461.80 L444.66,459.73 L446.35,457.93 L445.58,456.56 L443.16,457.08 L442.22,454.65 L444.35,453.40 L443.99,451.87 L441.53,451.69 L441.30,449.09 L443.70,448.49 L443.79,446.92 L441.48,446.05 L442.00,443.50 L444.46,443.60 L444.99,442.11 L443.02,440.63 L444.24,438.32 L446.57,439.12 L447.50,437.84 L446.02,435.87 L447.84,433.99 L449.86,435.42 L451.11,434.45 L450.25,432.14 L452.52,430.85 L454.06,432.79 L455.53,432.22 L455.36,429.75 L457.90,429.16 L458.83,431.45 L460.40,431.31 L460.93,428.90 L463.53,429.05 L463.78,431.51 L465.33,431.82 L466.51,429.65 L468.97,430.53 L468.51,432.96 L469.91,433.70 L471.66,431.95 L473.77,433.48 L472.65,435.69 L473.78,436.79 L475.95,435.60 L477.54,437.67 L475.85,439.47 L476.62,440.84 L479.04,440.32 L479.98,442.75 L477.85,444.00 L478.21,445.53 L480.67,445.71 L480.90,448.31 L478.50,448.91Z" fill="#444547" stroke="#444547" stroke-width="1" stroke-linejoin="round"/>
<circle cx="461.1" cy="448.7" r="12" fill="#4d4e51"/>
<circle cx="461.1" cy="448.7" r="8.5" fill="#808285"/>
<circle cx="461.1" cy="448.7" r="4.4" fill="#a9abaf"/>
<rect x="423.9" y="482.9" width="33.4" height="10.8" fill="#b3b5b8"/><rect x="446" y="482.9" width="11.3" height="10.8" fill="#d1d3d4"/><rect x="423.9" y="482.9" width="33.4" height="2" fill="#8f9194"/>
<polygon points="450.5,468.8 448.8,470.6 446.4,470.4 445.0,468.4 445.7,466.1 448.0,465.2 450.1,466.4" fill="#d3202f"/>
<polygon points="447.8,468.0 450.5,468.8 448.8,470.6 446.4,470.4" fill="#9b1824"/>
</g>
<text x="472.10" y="495.80" font-size="11.20" textLength="41.00" lengthAdjust="spacingAndGlyphs" fill="#fff" stroke="#fff" stroke-width="1.00" stroke-linejoin="round" text-anchor="start" >Mărunțire</text>
<g id="collect">
<g transform="translate(438.8,21.4) rotate(27.34)">
<rect x="-1" y="-1" width="104.3" height="62.9" fill="#fff"/>
<rect x="0" y="0" width="102.3" height="60.9" fill="#b3202e"/>
<rect x="0" y="13" width="31.4" height="47.9" fill="#b8222f"/>
<polygon points="0,13 22,13 4,60.9 0,60.9" fill="#c32b39" opacity="0.8"/>
<rect x="31.4" y="13" width="70.9" height="47.9" fill="#b6212f"/>
<polygon points="31.4,13 39,13 39,60.9 31.4,60.9" fill="#a01a27"/>
<polygon points="60,13 85,13 70,60.9 45,60.9" fill="#bd2634" opacity="0.8"/>
<rect x="0" y="11.6" width="102.3" height="1.8" fill="#d4525d"/>
<rect x="30.8" y="13" width="1.2" height="47.9" fill="#8a1722"/>
<rect x="20.4" y="11.4" width="11" height="2.6" rx="1.2" fill="#c9a9a9"/><rect x="20.4" y="13.6" width="11" height="1" fill="#8a1621"/>
<rect x="71.0" y="11.4" width="11" height="2.6" rx="1.2" fill="#c9a9a9"/><rect x="71.0" y="13.6" width="11" height="1" fill="#8a1621"/>
<rect x="9.7" y="55.5" width="13" height="3.4" rx="1.5" fill="#e6cfd0"/><rect x="9.7" y="55.5" width="13" height="1.2" rx="0.6" fill="#b98f92"/>
<rect x="39.2" y="55.5" width="13" height="3.4" rx="1.5" fill="#e6cfd0"/><rect x="39.2" y="55.5" width="13" height="1.2" rx="0.6" fill="#b98f92"/>
</g>
<rect x="385.6" y="83.8" width="41.2" height="44.3" fill="#fff"/>
<rect x="386.4" y="84.6" width="39.6" height="42.7" fill="#d3d4d6"/>
<rect x="386.4" y="84.6" width="16" height="42.7" fill="#e8e8ea"/>
<rect x="388" y="88" width="12.5" height="2.6" fill="#f4f4f5" stroke="#b9babd" stroke-width="0.4"/><rect x="388" y="92.5" width="12.5" height="2.6" fill="#f4f4f5" stroke="#b9babd" stroke-width="0.4"/>
<rect x="388" y="121.5" width="10" height="2.6" fill="#c9cacd"/><rect x="389" y="122.2" width="1.6" height="1.3" fill="#6d6e71"/><rect x="391.6" y="122.2" width="1.6" height="1.3" fill="#6d6e71"/><rect x="394.2" y="122.2" width="1.6" height="1.3" fill="#6d6e71"/>
<rect x="418.4" y="109" width="4" height="9.5" rx="0.8" fill="#bfc0c3" stroke="#a5a6aa" stroke-width="0.4"/>
<rect x="428.6" y="98.2" width="42.6" height="29.9" fill="#fff"/>
<rect x="430.2" y="99" width="39.4" height="25.4" fill="#a4a6aa"/>
<rect x="431.6" y="100.5" width="36.6" height="22.4" fill="#0d0d0e"/>
<polygon points="452,100.5 459,100.5 446,122.9 439,122.9" fill="#3a3a3d"/>
<path d="M440,100.5 L443,109 L441.5,113 L444,122.9 M443,109 L447,104" stroke="#d9dadc" stroke-width="0.5" fill="none"/>
<rect x="429.3" y="124.2" width="41.2" height="3.1" fill="#c5c6c9"/><rect x="445" y="124.2" width="9" height="1.2" fill="#9a9b9f"/>
<rect x="471.4" y="86" width="55.9" height="38.3" rx="3" fill="#e4e5e6"/>
<rect x="472.2" y="86.8" width="54.3" height="36.7" rx="2.5" fill="#636467"/>
<rect x="512" y="86.8" width="14.5" height="36.7" rx="2.5" fill="#58595c"/>
<rect x="473.2" y="87.6" width="39.8" height="34.8" rx="4.5" fill="#9d9fa2"/>
<rect x="475.6" y="89.8" width="35" height="30.4" rx="4" fill="#67686c"/>
<polygon points="490,89.8 496,89.8 484,120.2 478,120.2" fill="#77787c"/>
<path d="M500,91 L502.5,99 L500.5,104 L503,113" stroke="#2a2a2c" stroke-width="0.7" fill="none"/>
<rect x="476" y="123.5" width="3" height="2.4" fill="#4a4b4e"/><rect x="486" y="123.5" width="3" height="2.4" fill="#4a4b4e"/><rect x="512" y="123.5" width="3" height="2.4" fill="#4a4b4e"/><rect x="521" y="123.5" width="3" height="2.4" fill="#4a4b4e"/>
<rect x="530.5" y="101.7" width="14.2" height="23.7" rx="2.2" fill="#f1f1f2" stroke="#c5c6c9" stroke-width="0.6"/>
<rect x="532.2" y="105" width="10.8" height="16.5" fill="#85878b"/><polygon points="537,105 540,105 535,121.5 532.2,121.5 532.2,118" fill="#9a9ca0"/>
<rect x="535.8" y="103" width="3.6" height="0.8" fill="#b5b6ba"/>
</g>
<text x="440.60" y="142.80" font-size="11.20" textLength="39.80" lengthAdjust="spacingAndGlyphs" fill="#fff" stroke="#fff" stroke-width="1.00" stroke-linejoin="round" text-anchor="start" >Colectare</text>
<g id="repair">
<polygon points="490,256.4 611,256.4 600,261 486,261" fill="#3b8187"/>
<rect x="553.9" y="204.5" width="27" height="54.4" fill="#b3b5b8"/>
<rect x="553.9" y="204.5" width="5" height="54.4" fill="#a5a7aa"/>
<rect x="553.9" y="204.5" width="27" height="3.6" fill="#c3c5c8"/>
<rect x="499.9" y="188.6" width="54.3" height="70.8" fill="#f3f3f4"/>
<rect x="500.6" y="189.2" width="52.9" height="69.7" fill="#d2d3d5"/>
<rect x="500.6" y="189.2" width="52.9" height="13.7" fill="#e6e7e8"/>
<polygon points="540.1,202.9 553.5,202.9 553.5,258.9 534.8,258.9" fill="#c5c7c9"/>
<rect x="505.9" y="194.3" width="9" height="5.7" fill="#3a3a3c"/>
<circle cx="532.1" cy="197.3" r="3.7" fill="#3a3a3c"/><rect x="535" y="196.7" width="3.6" height="1.2" fill="#3a3a3c"/>
<rect x="540.8" y="195.2" width="7.2" height="4.4" fill="#9a9ca0"/><rect x="540.8" y="196.9" width="7.2" height="0.9" fill="#d2d3d5"/>
<circle cx="526.8" cy="228.8" r="15.6" fill="#bcbec1"/><circle cx="526.8" cy="228.8" r="14.4" fill="#9c9ea1"/>
<circle cx="526.8" cy="228.8" r="13.2" fill="#464749"/>
<path d="M517.2,237.8 A13.2,13.2 0 0 1 529.5,215.9 L521.2,240.8Z" fill="#5d5e61"/>
<path d="M540,226 q-2.4,2.8 0,6.4 l2,-0.6 v-5.2z" fill="#c9cbcd"/>
</g>
<text x="527.90" y="272.90" font-size="11.20" textLength="37.80" lengthAdjust="spacingAndGlyphs" fill="#fff" stroke="#fff" stroke-width="1.00" stroke-linejoin="round" text-anchor="start" >Reparare</text>
<g id="worker1" transform="translate(455,150) scale(0.19073)">
<ellipse cx="95" cy="583" rx="80" ry="7" fill="#d9dcdd" opacity="0.8"/>
<path d="M70,322 L182,322 L180,400 L168,470 L162,558 L131,558 L134,470 L126,395 L118,372 L106,440 L93,558 L54,558 L60,440 Z" fill="#4a3b36"/>
<path d="M126,395 L118,372 L122,330 L150,330 L134,470Z" fill="#3e302c"/>
<path d="M52,556 h42 l9,17 v9 h-56 z" fill="#8a4a2a"/><path d="M130,558 h32 l13,15 v9 h-47 z" fill="#8a4a2a"/>
<path d="M92,142 Q125,126 166,142 L180,334 L74,330 Z" fill="#f3f3f3"/>
<path d="M90,143 L74,156 L72,205 L100,208 L104,150Z" fill="#f3f3f3"/>
<path d="M74,200 L100,204 L100,228 L172,240 L174,264 L86,254 L72,240 Z" fill="#6a3f2a"/>
<path d="M92,142 L112,134 L122,200 L129,334 L64,326 L70,250 L80,256 L100,250 L100,160Z" fill="#f15a29"/>
<path d="M148,134 L168,143 L182,240 L187,326 L160,336 L156,230 Z" fill="#f15a29"/>
<path d="M100,139 l9,-4 L121,200 L125,325 L114,324 L110,200Z" fill="#ffd23f"/>
<path d="M157,137 l8,4 L177,240 L181,320 L171,323 L167,240 Z" fill="#ffd23f"/>
<path d="M66,262 L127,272 L127,281 L65,271Z M65,284 L127,294 L127,303 L64,293Z" fill="#ffd23f"/>
<path d="M159,274 L184,266 L185,275 L160,283Z M160,295 L185,287 L186,296 L161,304Z" fill="#ffd23f"/>
<path d="M96,226 L172,240 L174,264 L90,252Z" fill="#6a3f2a"/>
<path d="M163,146 L180,160 L186,212 L204,196 L216,210 L188,252 L168,236 Z" fill="#6a3f2a"/>
<path d="M163,146 L181,160 L184,196 L166,200Z" fill="#f3f3f3"/>
<path d="M196,200 l6,-16 l7,2 l-1,8 l8,-8 l6,5 l-4,18 l-12,14 l-13,-8z" fill="#cfdbe0"/>
<polygon points="184,291 236,233 272,276 216,328" fill="#2f2f31"/><polygon points="192,291 236,243 263,276 217,318" fill="#f4f4f4"/>
<path d="M172,252 l18,-2 l6,14 l-20,6z" fill="#6a3f2a"/>
<path d="M114,112 h28 v28 q-14,8 -28,0z" fill="#5a3322"/>
<ellipse cx="126" cy="90" rx="28" ry="33" fill="#6a3f2a"/>
<path d="M93,84 Q90,38 128,35 Q166,36 162,80 L93,88Z" fill="#1b1b1d"/>
<rect x="94" y="76" width="68" height="11" rx="4" fill="#2e2e30"/><rect x="118" y="78" width="40" height="8" rx="3" fill="#55565a"/>
<path d="M112,100 Q134,84 158,100 Q160,128 138,130 Q116,128 112,100Z" fill="#f1f3f4"/>
<path d="M96,92 L114,106 M96,100 L116,118" stroke="#f1f3f4" stroke-width="2"/>
</g>
<g id="worker2" transform="translate(545,180) scale(0.14085)">
<path d="M215,470 L372,440 L372,500 L330,530 L215,535Z" fill="#5a3016"/>
<path d="M120,540 l30,-40 l40,10 l10,45 l-80,5z" fill="#3b2416"/><path d="M205,525 h80 l20,30 h-100z" fill="#3b2416"/>
<path d="M118,548 q40,-14 85,4 v10 h-85z" fill="#e9eaec"/><path d="M285,528 q40,4 60,30 h-60z" fill="#e9eaec"/>
<path d="M132,392 Q140,372 175,374 L372,398 L372,470 L225,462 L205,520 L150,505 L128,410Z" fill="#6b3a1c"/>
<path d="M262,180 Q300,160 380,190 L388,250 L378,405 L232,392 L250,250Z" fill="#2b3f9b"/>
<path d="M345,250 L384,240 L380,408 L340,412Z" fill="#e9402a"/>
<path d="M285,172 L312,166 L268,392 L232,388Z" fill="#f15a29"/>
<path d="M322,160 L352,168 L345,412 L318,408Z" fill="#f15a29"/>
<path d="M285,172 l8,-2 L242,390 l-10,-2z M304,168 l8,-2 L268,392 l-9,-1z" fill="#ffd23f"/>
<path d="M322,160 l8,2 L326,410 l-8,-2z M344,166 l8,2 L345,412 l-8,0z" fill="#ffd23f"/>
<path d="M322,355 L380,362 L380,372 L322,365Z M236,360 L270,366 L268,376 L234,370Z" fill="#ffd23f"/>
<path d="M258,186 Q240,200 244,262 L280,268 L290,200Z" fill="#2b3f9b"/>
<path d="M244,250 L282,262 L270,300 L180,285 L182,258 Z" fill="#e7b18c"/>
<path d="M250,290 L276,310 L160,360 L148,335Z" fill="#e7b18c"/>
<path d="M100,255 L185,250 L190,288 L120,292 L96,275Z" fill="#eef0f1"/>
<path d="M76,338 L146,328 L160,362 L110,382 L80,368Z" fill="#eef0f1"/>
<path d="M62,262 h40 v8 h-40z" fill="#b9bbbe"/>
<path d="M292,135 h32 v36 q-16,8 -32,0z" fill="#d9a27c"/>
<ellipse cx="292" cy="98" rx="38" ry="46" fill="#e7b18c"/>
<ellipse cx="334" cy="98" rx="8" ry="11" fill="#e7b18c"/>
<path d="M252,86 Q246,36 292,34 Q336,36 332,82 L318,64 L262,66Z" fill="#8e9093"/>
<path d="M258,112 Q266,130 292,128 Q318,128 326,108 L324,140 Q296,166 268,144Z" fill="#7a4a2a"/>
<circle cx="271" cy="96" r="6" fill="#3b2b2b"/><circle cx="302" cy="96" r="6" fill="#3b2b2b"/><rect x="262" y="92" width="50" height="3" fill="#3b2b2b"/>
<path d="M262,120 l40,-4 l1,7 l-40,4z" fill="#eef0f1"/>
</g>
<g id="disasm">
<g transform="translate(463.4,325.4) rotate(-23.9)"><rect x="0" y="0" width="79" height="60" rx="5" fill="#b6b8bb"/></g>
<rect x="512.5" y="321.1" width="80.2" height="54.6" rx="4" fill="#b1b3b6"/>
<rect x="516.3" y="323.4" width="72.8" height="49" rx="1.5" fill="#67686b"/>
<rect x="521.6" y="327.7" width="61.8" height="40.6" fill="#adafb2"/>
<rect x="540.5" y="331" width="6" height="9" fill="#7e7f83"/>
<circle cx="515.2" cy="323.6" r="0.9" fill="#808286"/><circle cx="590.2" cy="323.6" r="0.9" fill="#808286"/>
<rect x="569.5" y="338.7" width="13.3" height="25.2" fill="#1d7a42"/>
<rect x="574.4" y="341" width="1.2" height="13" fill="#a8a23c"/>
<rect x="576.5" y="341" width="1.2" height="13" fill="#a8a23c"/>
<rect x="578.6" y="341" width="1.2" height="13" fill="#a8a23c"/>
<rect x="580.7" y="341" width="1.2" height="13" fill="#a8a23c"/>
<rect x="570.4" y="355.2" width="4" height="7" fill="#101010"/>
<circle cx="571.6" cy="342.0" r="0.6" fill="#bfe6cf"/>
<circle cx="571.6" cy="345.5" r="0.6" fill="#bfe6cf"/>
<circle cx="571.6" cy="349.0" r="0.6" fill="#bfe6cf"/>
<circle cx="571.6" cy="352.5" r="0.6" fill="#bfe6cf"/>
<g fill="none" stroke="#d3d6d8" stroke-width="1.4">
<ellipse cx="512.7" cy="375.4" rx="22.4" ry="24" />
<ellipse cx="505" cy="380.5" rx="22.5" ry="18" transform="rotate(-12 505 380.5)"/>
<ellipse cx="514.1" cy="372.5" rx="15.7" ry="13" transform="rotate(20 514.1 372.5)"/>
<path d="M500,345 C499,353 488,362 483,372"/>
</g>
<rect x="495.9" y="340.6" width="9.4" height="4.6" fill="#e3e4e6" stroke="#c9cacd" stroke-width="0.4"/>
<polygon points="525.0,331.1 557.6,345.3 556.0,352.9 563.0,356.1 552.7,384.1 540.5,379.5 542.4,371.3 518.0,359.6" fill="#1b8a4c" />
<polygon points="522.3,344.5 560,361.5 552.7,384.1 540.5,379.5 542.4,371.3 518,359.6" fill="#147540"/>
<polygon points="539.5,351.4 561.8,360.6 560,365.2 537.8,356" fill="#8f9a3c"/>
<circle cx="534.3" cy="342.8" r="4.4" fill="#dcd7de"/>
<polygon points="522.6,349 527.6,351.2 525.8,355.6 520.8,353.4" fill="#f3ec5a"/>
<polygon points="531,352.4 538.2,355.6 535.6,361.2 528.4,358" fill="#0d0d0d"/>
<polygon points="543,371 549.6,373.8 547.6,378.4 541,375.6" fill="#0d0d0d"/>
<circle cx="541.0" cy="338.8" r="0.7" fill="#bfe6cf"/>
<circle cx="545.5" cy="340.8" r="0.7" fill="#bfe6cf"/>
<circle cx="550.0" cy="342.8" r="0.7" fill="#bfe6cf"/>
<circle cx="528.0" cy="336.8" r="0.7" fill="#bfe6cf"/>
<circle cx="524.0" cy="362.0" r="0.7" fill="#bfe6cf"/>
<circle cx="529.0" cy="364.3" r="0.7" fill="#bfe6cf"/>
<polygon points="584.7,343.4 602.9,348 592.1,387.6 573.9,381.4" fill="#131314"/>
<polygon points="587,346.6 600.3,350 590.6,384 577,379.4" fill="#1f1f21"/>
<circle cx="586.0" cy="345.6" r="0.9" fill="#77787c"/>
<circle cx="600.6" cy="349.4" r="0.9" fill="#77787c"/>
<circle cx="591.0" cy="385.4" r="0.9" fill="#77787c"/>
<circle cx="576.0" cy="380.2" r="0.9" fill="#77787c"/>
<path d="M613.8,321.6 L600.2,335" stroke="#dfe6e8" stroke-width="2" stroke-linecap="round"/><path d="M602.4,333 L599.4,336" stroke="#dfe6e8" stroke-width="3.2"/>
<path d="M628.2,306.7 L614.6,320.8" stroke="#f15a29" stroke-width="6" stroke-linecap="round"/>
<path d="M629.6,308.2 L616,322.2" stroke="#d9441a" stroke-width="2" stroke-linecap="round"/>
<rect x="606.8" y="340.4" width="3.2" height="6.4" rx="0.8" fill="#5b5c5f" transform="rotate(15 608.4 343.4)"/>
<rect x="560.6" y="381.8" width="3.2" height="6.4" rx="0.8" fill="#5b5c5f" transform="rotate(-15 562.2 385)"/>
</g>
<text x="510.50" y="410.30" font-size="11.20" textLength="59.00" lengthAdjust="spacingAndGlyphs" fill="#fff" stroke="#fff" stroke-width="1.00" stroke-linejoin="round" text-anchor="start" >Dezasamblare</text>
<text x="531.40" y="423.20" font-size="11.20" textLength="38.10" lengthAdjust="spacingAndGlyphs" fill="#fff" stroke="#fff" stroke-width="1.00" stroke-linejoin="round" text-anchor="start" >&amp; Sortare</text>
<g id="pcbs">
<polygon points="426.4,370.3 457.8,384.4 456.0,390.8 465.0,394.0 457.3,415.3 416.1,398.6" fill="#1b8a4c" />
<polygon points="421.5,384.5 462.5,401 457.3,415.3 416.1,398.6" fill="#147540"/>
<polygon points="439.5,391.4 463.8,400.2 462.2,404.8 438,396" fill="#8f9a3c"/>
<circle cx="434.6" cy="380.6" r="4.4" fill="#dcd7de"/>
<polygon points="424.8,386.6 428.6,388.2 426.8,392.8 423,391.2" fill="#f3ec5a"/>
<polygon points="431.2,388.4 438.4,391.4 436,397 428.8,394" fill="#0d0d0d"/>
<polygon points="445.2,406 451.4,408.6 449.8,412.4 443.6,409.8" fill="#0d0d0d"/>
<circle cx="441.0" cy="377.6" r="0.7" fill="#bfe6cf"/>
<circle cx="445.0" cy="379.4" r="0.7" fill="#bfe6cf"/>
<circle cx="449.0" cy="381.2" r="0.7" fill="#bfe6cf"/>
<circle cx="427.0" cy="375.4" r="0.7" fill="#bfe6cf"/>
<circle cx="423.0" cy="399.0" r="0.7" fill="#bfe6cf"/>
<circle cx="428.0" cy="401.0" r="0.7" fill="#bfe6cf"/>
<polygon points="443.1,415.3 456.0,425.6 439.3,450.0 421.3,437.1" fill="#1b8a4c" />
<polygon points="430.5,424.5 448,437 439.3,450 421.3,437.1" fill="#147540"/>
<polygon points="433,427.6 438,431.2 435.4,435 430.4,431.4" fill="#f3ec5a"/>
<polygon points="439.6,431.6 446,436.2 442.6,441 436.2,436.4" fill="#0d0d0d"/>
<circle cx="444.0" cy="419.5" r="0.7" fill="#bfe6cf"/>
<circle cx="447.0" cy="421.8" r="0.7" fill="#bfe6cf"/>
<circle cx="428.0" cy="437.5" r="0.7" fill="#bfe6cf"/>
<circle cx="431.0" cy="440.0" r="0.7" fill="#bfe6cf"/>
</g>
<text x="341.28" y="400.52" font-size="7.27" textLength="68.75" lengthAdjust="spacingAndGlyphs" fill="#35868b" stroke="#35868b" stroke-width="0.95" stroke-linejoin="round" text-anchor="start" >Placă de circuit imprimat</text>
<g id="waste">
<polygon points="591.0,406.2 600.0,405.7 600.1,408.1 606.4,403.7 599.7,399.9 599.8,402.3 590.8,402.8" fill="#f04e23"/>
<polygon points="580.1,427.7 588.1,432.7 586.8,434.7 594.5,434.7 591.1,427.8 589.9,429.8 581.9,424.9" fill="#f04e23"/>
<polygon points="564.8,446.1 570.6,455.1 568.6,456.4 575.6,459.6 575.5,451.9 573.5,453.2 567.6,444.3" fill="#f04e23"/>
<text x="616.65" y="380.85" font-size="7.14" textLength="45.70" lengthAdjust="spacingAndGlyphs" fill="#35868b" stroke="#35868b" stroke-width="0.90" stroke-linejoin="round" text-anchor="start" >Deșeuri de metal</text>
<text x="604.05" y="436.15" font-size="7.14" textLength="45.50" lengthAdjust="spacingAndGlyphs" fill="#35868b" stroke="#35868b" stroke-width="0.90" stroke-linejoin="round" text-anchor="start" >Deșeuri de sticlă</text>
<text x="566.65" y="479.05" font-size="7.14" textLength="48.30" lengthAdjust="spacingAndGlyphs" fill="#35868b" stroke="#35868b" stroke-width="0.90" stroke-linejoin="round" text-anchor="start" >Deșeuri de plastic</text>
<polygon points="617.5,397.7 647.2,384.7 657,403.8 626.4,417.7" fill="#b4b5b9"/>
<path fill-rule="evenodd" d="M614.3,400 H621.2 V410.3 H614.3Z M616.9,402.8 V407.8 H620.2 L619.2,402.8Z" fill="#a6a7ab"/>
<rect x="621" y="400.4" width="24.9" height="5.4" fill="#a9aaae"/>
<rect x="632.4" y="405" width="6.5" height="17.4" fill="#a6a7ab"/>
<rect x="648.8" y="409.4" width="2.6" height="7.6" rx="1" fill="#37373a" transform="rotate(22 650 413.1)"/>
<polygon points="600.2,448 632.6,441.2 636.8,462 605,468.5" fill="#3c3c3f"/>
<polygon points="602,449.6 631.4,443.4 635,460.8 606.2,466.7" fill="#4a4a4d"/>
<polygon points="611,447.6 615,446.8 628,462.2 624,463" fill="#67686b"/>
<g transform="translate(563.2,488.2) rotate(-5.8)"><rect x="0" y="0" width="34.2" height="24.2" rx="3.4" fill="#fff" stroke="#2f2f31" stroke-width="1.7"/></g>
<rect x="582.8" y="492.8" width="2" height="3.6" rx="0.9" fill="#2f2f31"/><rect x="593.6" y="500.3" width="3.2" height="2.2" rx="1" fill="#2f2f31"/>
</g>
</svg>
</body></html>
